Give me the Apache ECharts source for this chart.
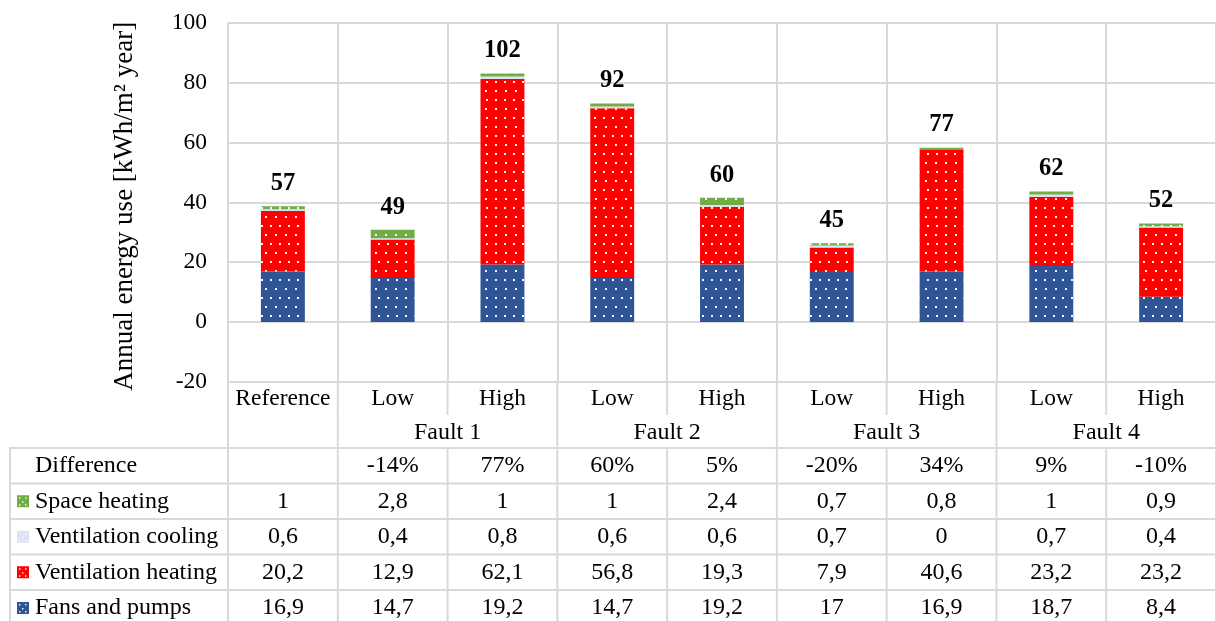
<!DOCTYPE html>
<html>
<head>
<meta charset="utf-8">
<script src="https://cdn.jsdelivr.net/npm/echarts@6/dist/echarts.min.js"></script>
<style>
html,body{margin:0;padding:0;background:#fff;}
#chart{width:1216px;height:621px;}
</style>
</head>
<body>
<div id="chart"></div>
<script>
// ---- data ----
const categories = ['Reference', 'Low', 'High', 'Low', 'High', 'Low', 'High', 'Low', 'High'];
const groupLabels = ['', 'Fault 1', 'Fault 2', 'Fault 3', 'Fault 4'];
const groupSpans = [1, 2, 2, 2, 2];
const totals = [57, 49, 102, 92, 60, 45, 77, 62, 52];
const differences = ['', '-14%', '77%', '60%', '5%', '-20%', '34%', '9%', '-10%'];
const spaceHeating = [1, 2.8, 1, 1, 2.4, 0.7, 0.8, 1, 0.9];
const ventilationCooling = [0.6, 0.4, 0.8, 0.6, 0.6, 0.7, 0, 0.7, 0.4];
const ventilationHeating = [20.2, 12.9, 62.1, 56.8, 19.3, 7.9, 40.6, 23.2, 23.2];
const fansAndPumps = [16.9, 14.7, 19.2, 14.7, 19.2, 17, 16.9, 18.7, 8.4];
const yTicks = { min: -20, max: 100, interval: 20 };
const yAxisName = 'Annual energy use [kWh/m² year]';

// ---- styles ----
const FONT = "'Liberation Serif', 'Times New Roman', serif";
const FS = 23.5;
const FS_TABLE = 24;
const GRID = '#d9d9d9';
const colors = {
  fans: '#2f5597',
  vheat: '#ff0000',
  vcool: '#dae3f3',
  space: '#70ad47'
};
const decal = {
  symbol: 'rect',
  symbolSize: 1,
  dashArrayX: [[2, 6.6], [0, 4.3, 2, 2.3]],
  dashArrayY: [2, 6.3],
  color: 'rgba(255,255,255,0.95)',
  rotation: 0
};

const chart = echarts.init(document.getElementById('chart'), null, { renderer: 'canvas' });

function mkSeries(name, data, color, extra) {
  return Object.assign({
    name: name,
    type: 'bar',
    stack: 'total',
    data: data,
    barWidth: '40%',
    itemStyle: { color: color, decal: Object.assign({}, decal) },
    emphasis: { disabled: true },
    animation: false
  }, extra || {});
}

const option = {
  animation: false,
  grid: { left: 228, right: -4, top: 23, bottom: 239.3, containLabel: false },
  xAxis: {
    type: 'category',
    data: categories,
    axisLine: { show: false },
    axisTick: { show: false },
    splitLine: { show: true, interval: 0, lineStyle: { color: GRID, width: 2 } },
    axisLabel: {
      interval: 0, fontSize: FS, fontFamily: FONT, color: '#000',
      margin: 17.5, verticalAlign: 'middle'
    }
  },
  yAxis: {
    type: 'value',
    min: yTicks.min, max: yTicks.max, interval: yTicks.interval,
    name: yAxisName,
    nameLocation: 'middle',
    nameGap: 90,
    nameTextStyle: { fontSize: 27, fontFamily: FONT, color: '#000', padding: [0, 8, 0, 0] },
    axisLine: { show: false },
    axisTick: { show: false },
    splitLine: { show: true, lineStyle: { color: GRID, width: 2 } },
    axisLabel: { fontSize: FS, fontFamily: FONT, color: '#000', margin: 21 }
  },
  series: [
    mkSeries('Fans and pumps', fansAndPumps, colors.fans),
    mkSeries('Ventilation heating', ventilationHeating, colors.vheat),
    mkSeries('Ventilation cooling', ventilationCooling, colors.vcool),
    mkSeries('Space heating', spaceHeating, colors.space, {
      label: {
        show: true, position: 'top', distance: 10,
        fontSize: 24.5, fontWeight: 'bold', fontFamily: FONT, color: '#000',
        formatter: function (p) { return String(totals[p.dataIndex]); }
      }
    })
  ]
};
chart.setOption(option);

// ---- data table below the plot ----
function fmt(v) { return (v === '' ? '' : String(v).replace('.', ',')); }

const x0 = chart.convertToPixel({ xAxisIndex: 0 }, 0);
const x1 = chart.convertToPixel({ xAxisIndex: 0 }, 1);
const bw = x1 - x0;
const bounds = [];
for (let i = 0; i <= categories.length; i++) bounds.push(x0 - bw / 2 + i * bw);
const plotBottom = chart.convertToPixel({ yAxisIndex: 0 }, yTicks.min);

const yCatBottom = 415;
const rowLines = [448, 483.5, 519, 554.5, 590, 626];
const tableLeft = 10;
const right = bounds[bounds.length - 1];

const g = [];
function line(xa, ya, xb, yb) {
  g.push({ type: 'line', silent: true, z: 1,
    shape: { x1: xa, y1: ya, x2: xb, y2: yb },
    style: { stroke: GRID, lineWidth: 2 } });
}
function text(t, x, y, align, extra) {
  g.push({ type: 'text', silent: true, z: 5, x: x, y: y,
    style: Object.assign({ text: t, fontSize: FS_TABLE, fontFamily: FONT, fill: '#000',
      align: align || 'center', verticalAlign: 'middle' }, extra || {}) });
}

// vertical lines: category row
bounds.forEach(function (b) { line(b, plotBottom, b, yCatBottom); });
// group row: only group boundaries
const groupBounds = [0];
groupSpans.reduce(function (acc, s) { groupBounds.push(acc + s); return acc + s; }, 0);
groupBounds.forEach(function (gi) { line(bounds[gi], yCatBottom - 1, bounds[gi], rowLines[0]); });
// table body vertical lines
bounds.forEach(function (b) { line(b, rowLines[0], b, 621); });
line(tableLeft, rowLines[0], tableLeft, 621);
// horizontal lines
rowLines.forEach(function (y) { line(tableLeft - 1, y, right, y); });

// group labels
let start = 0;
groupLabels.forEach(function (lbl, gi) {
  const end = start + groupSpans[gi];
  if (lbl) text(lbl, (bounds[start] + bounds[end]) / 2, 433);
  start = end;
});

// rows
const rows = [
  { name: 'Difference', values: differences, color: null },
  { name: 'Space heating', values: spaceHeating, color: colors.space },
  { name: 'Ventilation cooling', values: ventilationCooling, color: colors.vcool },
  { name: 'Ventilation heating', values: ventilationHeating, color: colors.vheat },
  { name: 'Fans and pumps', values: fansAndPumps, color: colors.fans }
];
rows.forEach(function (r, ri) {
  const cy = (rowLines[ri] + rowLines[ri + 1]) / 2;
  text(r.name, 35, cy, 'left');
  if (r.color) {
    g.push({ type: 'rect', silent: true, z: 5,
      shape: { x: 17, y: cy - 6, width: 12, height: 12 },
      style: { fill: r.color } });
    [[19, cy - 4], [25, cy - 4], [22, cy], [19, cy + 3], [25, cy + 3]].forEach(function (p) {
      g.push({ type: 'rect', silent: true, z: 6,
        shape: { x: p[0], y: p[1], width: 1.5, height: 1.5 },
        style: { fill: 'rgba(255,255,255,0.9)' } });
    });
  }
  r.values.forEach(function (v, ci) {
    const cx = chart.convertToPixel({ xAxisIndex: 0 }, ci);
    text(fmt(v), cx, cy);
  });
});

chart.setOption({ graphic: { elements: g } });
</script>
</body>
</html>
